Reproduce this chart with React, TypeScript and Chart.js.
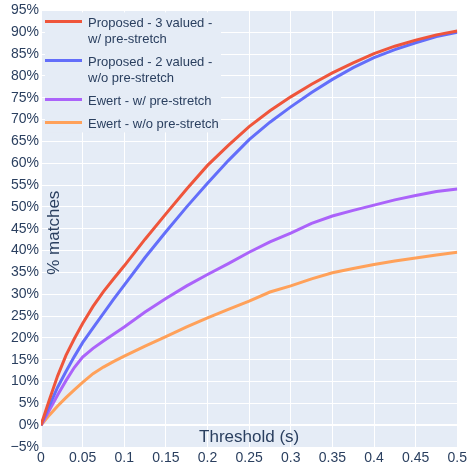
import React, { useEffect, useRef } from "react";
import { Chart, registerables } from "chart.js";

Chart.register(...registerables);

const thresholds = [0, 0.01, 0.02, 0.03, 0.04, 0.05, 0.0625, 0.075, 0.0875, 0.1, 0.125, 0.15, 0.175, 0.2, 0.225, 0.25, 0.275, 0.3, 0.325, 0.35, 0.375, 0.4, 0.425, 0.45, 0.475, 0.5];
const proposed3 = [0, 5.8, 11.3, 16.0, 19.8, 23.3, 27.2, 30.6, 33.6, 36.5, 42.6, 48.4, 54.1, 59.5, 64.1, 68.4, 72.0, 75.2, 78.1, 80.7, 83.0, 85.1, 86.8, 88.2, 89.4, 90.3];
const proposed2 = [0, 4.5, 8.7, 12.3, 15.7, 18.9, 22.3, 25.6, 28.9, 32.1, 38.4, 44.3, 50.0, 55.4, 60.6, 65.4, 69.4, 72.9, 76.2, 79.2, 81.9, 84.2, 86.0, 87.6, 89.0, 90.0];
const ewertW = [0, 3.4, 6.9, 10.2, 13.2, 15.6, 17.6, 19.3, 20.9, 22.5, 25.9, 29.0, 31.9, 34.5, 37.0, 39.6, 42.0, 44.0, 46.2, 47.9, 49.2, 50.4, 51.6, 52.6, 53.5, 54.1];
const ewertWo = [0, 2.3, 4.4, 6.3, 8.1, 9.8, 11.8, 13.3, 14.6, 15.8, 18.1, 20.3, 22.5, 24.6, 26.5, 28.4, 30.5, 31.9, 33.5, 34.9, 35.9, 36.8, 37.6, 38.3, 39.0, 39.6];

const xTickValues = [0, 0.05, 0.1, 0.15, 0.2, 0.25, 0.3, 0.35, 0.4, 0.45, 0.5];
const yTickValues = [-5, 0, 5, 10, 15, 20, 25, 30, 35, 40, 45, 50, 55, 60, 65, 70, 75, 80, 85, 90, 95];

const seriesNames = [
  ["Proposed - 3 valued -", "w/ pre-stretch"],
  ["Proposed - 2 valued -", "w/o pre-stretch"],
  ["Ewert - w/ pre-stretch"],
  ["Ewert - w/o pre-stretch"],
];
const seriesValues = [proposed3, proposed2, ewertW, ewertWo];
const colors = ["#EF553B", "#636EFA", "#AB63FA", "#FFA15A"];

const xTitle = "Threshold (s)";
const yTitle = "% matches";

const FONT = "'Liberation Sans', Arial, sans-serif";
const TEXT = "#2a3f5f";
const PLOT_BG = "#E5ECF6";

const fmtPct = (v: number) => {
  const n = Math.round(v);
  return n < 0 ? `\u2212${Math.abs(n)}%` : `${n}%`;
};

export default function App() {
  const ref = useRef<HTMLCanvasElement>(null);

  useEffect(() => {
    document.body.style.margin = "0";
    const canvas = ref.current!;
    const decor = {
      id: "decor",
      beforeDraw(chart: any) {
        const { ctx, chartArea: a } = chart;
        ctx.save();
        ctx.fillStyle = PLOT_BG;
        ctx.fillRect(a.left, a.top, a.right - a.left, a.bottom - a.top);
        ctx.restore();
      },
      afterDraw(chart: any) {
        const { ctx, chartArea: a } = chart;
        const ys = chart.scales.y;
        ctx.save();
        // negative y tick labels (drawn here so they sit below the plot edge)
        ctx.fillStyle = TEXT;
        ctx.font = `14px ${FONT}`;
        ctx.textAlign = "right";
        ctx.textBaseline = "middle";
        yTickValues.filter((v) => v < 0).forEach((v) => {
          ctx.fillText(fmtPct(v), ys.right - 2, ys.getPixelForValue(v));
        });
        // axis titles
        ctx.font = `17px ${FONT}`;
        ctx.textAlign = "center";
        ctx.fillText(xTitle, (a.left + a.right) / 2, a.bottom - 10);
        ctx.save();
        ctx.translate(a.left + 13, (a.top + a.bottom) / 2 + 4);
        ctx.rotate(-Math.PI / 2);
        ctx.fillText(yTitle, 0, 0);
        ctx.restore();
        // legend
        const lx = a.left + 4;
        const ly = a.top + 2;
        ctx.fillStyle = PLOT_BG;
        ctx.fillRect(lx, ly, 176, 120);
        ctx.font = `13px ${FONT}`;
        ctx.textAlign = "left";
        ctx.textBaseline = "middle";
        let y = ly + 9;
        seriesNames.forEach((lines, i) => {
          ctx.strokeStyle = colors[i];
          ctx.lineWidth = 3;
          ctx.beginPath();
          ctx.moveTo(lx, y);
          ctx.lineTo(lx + 37, y);
          ctx.stroke();
          ctx.fillStyle = TEXT;
          lines.forEach((t, j) => {
            ctx.fillText(t, lx + 43, y + 2 + j * 16);
          });
          y += lines.length === 2 ? 39 : 23;
        });
        ctx.restore();
      },
    };

    const chart = new Chart(canvas, {
      type: "line",
      data: {
        datasets: seriesValues.map((vals, i) => ({
          label: seriesNames[i].join(" "),
          data: thresholds.map((x, k) => ({ x, y: vals[k] })),
          borderColor: colors[i],
          backgroundColor: colors[i],
          borderWidth: 3,
          pointRadius: 0,
          tension: 0,
          fill: false,
        })),
      },
      options: {
        animation: false,
        responsive: false,
        devicePixelRatio: 1,
        layout: { padding: { top: 10, right: 11, left: 0, bottom: 0 } },
        plugins: { legend: { display: false }, tooltip: { enabled: false }, title: { display: false } },
        scales: {
          x: {
            type: "linear",
            min: 0,
            max: 0.5,
            border: { display: false },
            grid: {
              color: "#ffffff",
              lineWidth: (c: any) => (c.tick && c.tick.value === 0 ? 2 : 1),
              drawTicks: false,
            },
            ticks: {
              padding: 3,
              color: TEXT,
              font: { family: FONT, size: 14 },
              maxRotation: 0,
              autoSkip: false,
              callback: (v: any) => `${+Number(v).toFixed(2)}`,
            },
            afterBuildTicks: (s: any) => {
              s.ticks = xTickValues.map((value) => ({ value }));
            },
            afterFit: (s: any) => {
              s.height = 19;
            },
          },
          y: {
            type: "linear",
            min: -5,
            max: 95,
            border: { display: false },
            grid: {
              color: (c: any) => (c.tick && c.tick.value < 0 ? "rgba(0,0,0,0)" : "#ffffff"),
              lineWidth: (c: any) => (c.tick && c.tick.value === 0 ? 2 : 1),
              drawTicks: false,
            },
            ticks: {
              padding: 2,
              color: TEXT,
              font: { family: FONT, size: 14 },
              autoSkip: false,
              callback: (v: any) => (Number(v) < 0 ? "" : fmtPct(Number(v))),
            },
            afterBuildTicks: (s: any) => {
              s.ticks = yTickValues.map((value) => ({ value }));
            },
            afterFit: (s: any) => {
              s.width = 41;
            },
          },
        },
      },
      plugins: [decor],
    });
    return () => chart.destroy();
  }, []);

  return <canvas ref={ref} width={470} height={466} style={{ display: "block" }} />;
}
